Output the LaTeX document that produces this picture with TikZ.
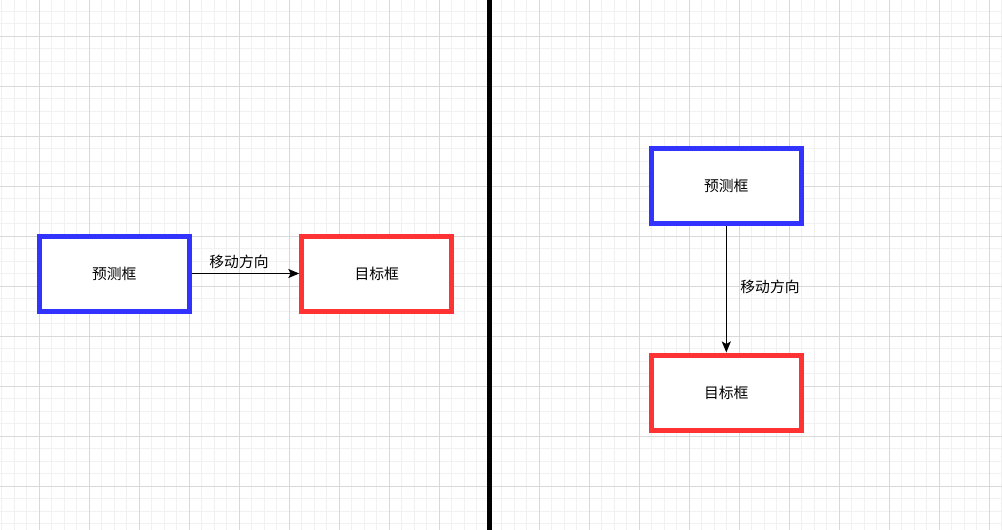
\documentclass[tikz,border=0pt]{standalone}
\usepackage{fontspec}
\usepackage{tikz, xcolor}
\usetikzlibrary{shapes,arrows.meta}
\newfontfamily\cjk{Noto Sans CJK SC}

\definecolor{boxblue}{HTML}{3333FF}
\definecolor{boxred}{HTML}{FF3333}
\definecolor{gridmajor}{HTML}{D9D9D9}
\definecolor{gridminor}{HTML}{F1F1F1}

\begin{document}
\begin{tikzpicture}[x=1pt, y=-1pt, font=\cjk\fontsize{14.8}{17}\selectfont]
\tikzstyle{vertexb}=[rectangle, draw=boxblue, line width=5pt, fill=white, minimum width=150pt, minimum height=75pt, inner sep=0pt]
\tikzstyle{vertexr}=[rectangle, draw=boxred, line width=5pt, fill=white, minimum width=150pt, minimum height=75pt, inner sep=0pt]
\tikzstyle{drawstyle}=[line width=1.6pt, -{Stealth[length=11pt, width=9pt, inset=2.5pt]}]
\tikzstyle{labelstyle}=[inner sep=0pt]

\useasboundingbox (0,0) rectangle (1002,530);
\fill[white] (0,0) rectangle (1002,530);

% background grid
\foreach \i in {0,...,80}
  \draw[gridminor, line width=1pt] ({1.8+12.5*\i},0) -- ({1.8+12.5*\i},530);
\foreach \i in {0,...,41}
  \draw[gridminor, line width=1pt] (0,{11+12.5*\i}) -- (1002,{11+12.5*\i});
\foreach \i in {0,...,19}
  \draw[gridmajor, line width=1pt] ({39.3+50*\i},0) -- ({39.3+50*\i},530);
\foreach \i in {0,...,9}
  \draw[gridmajor, line width=1pt] (0,{36+50*\i}) -- (1002,{36+50*\i});

% divider
\draw[black, line width=4.5pt] (489.7,0) -- (489.7,530);

% left: horizontal move
\node[vertexb] (P0) at (114.3,273.5) {预测框};
\node[vertexr] (T0) at (376.8,273.5) {目标框};
\node[labelstyle] (L0) at (239,262) {移动方向};
\draw[drawstyle] (P0) -- (T0);

% right: vertical move
\node[vertexb] (P1) at (726.3,186.3) {预测框};
\node[vertexr] (T1) at (726.3,392.5) {目标框};
\node[labelstyle] (L1) at (770,286.5) {移动方向};
\draw[drawstyle] (P1) -- (T1);
\end{tikzpicture}
\end{document}
